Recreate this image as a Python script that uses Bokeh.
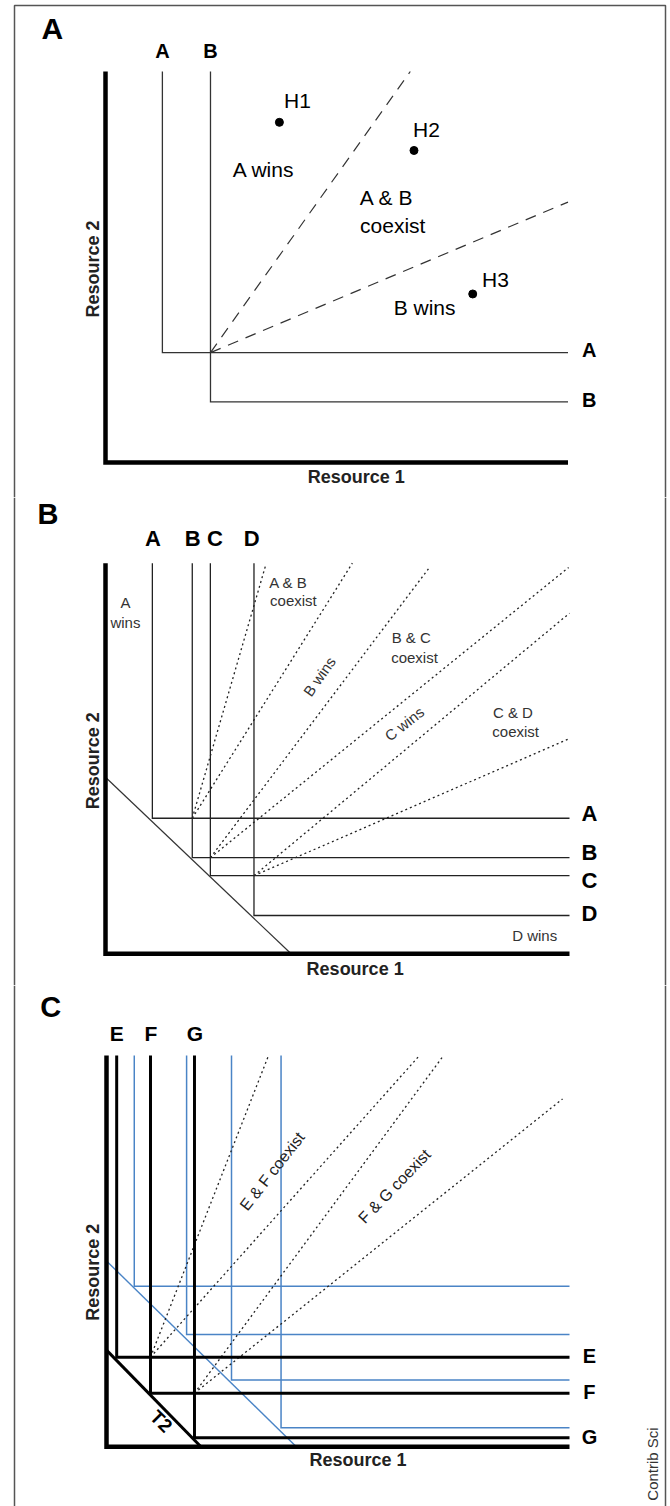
import math
from bokeh.plotting import figure
from bokeh.layouts import column
from bokeh.models import Range1d
from bokeh.core.properties import value
from bokeh.embed import file_html
from bokeh.resources import INLINE

FONT = "Liberation Sans"

# ---------------- Panel A data (resource units, axes 0..100) ----------------
a_species = ["A", "B"]
a_r1 = [12.3, 22.7]            # R1* of each species (vertical ZNGI)
a_r2 = [28.1, 15.5]            # R2* of each species (horizontal ZNGI)
a_top_lab_x = [12.3, 22.7]
a_right_lab_y = [28.7, 15.9]
a_vec_end_x = [65.9, 100.0]    # consumption vectors from A-B equilibrium
a_vec_end_y = [100.0, 66.6]
a_hab = ["H1", "H2", "H3"]
a_hab_x = [37.6, 66.7, 79.4]
a_hab_y = [87.0, 79.8, 43.1]
a_hab_lab_x = [41.5, 69.4, 84.3]
a_hab_lab_y = [92.6, 85.2, 46.8]
a_reg = ["A wins", "A & B", "coexist", "B wins"]
a_reg_x = [34.2, 60.8, 62.1, 69.0]
a_reg_y = [74.9, 67.8, 60.6, 39.6]

# ---------------- Panel B data ----------------
b_species = ["A", "B", "C", "D"]
b_r1 = [10.1, 18.7, 22.6, 32.0]
b_r2 = [34.7, 24.6, 20.0, 9.8]
b_supply_x = [0.0, 40.0]
b_supply_y = [45.2, 0.0]
b_top_lab_x = [10.2, 18.8, 23.6, 31.5]
b_right_lab_y = [35.8, 26.0, 18.8, 10.4]
b_vec_pair = [0, 0, 1, 1, 2, 2]   # vector starts at equilibrium of species i and i+1
b_vec_end_x = [34.5, 53.2, 70.0, 99.8, 100.0, 100.0]
b_vec_end_y = [99.4, 100.0, 99.2, 98.9, 87.2, 55.1]
b_lab = ["A", "wins", "A & B", "coexist", "B wins", "B & C", "coexist",
         "C wins", "C & D", "coexist", "D wins"]
b_lab_x = [4.3, 4.3, 39.4, 40.5, 46.1, 65.9, 66.6, 64.4, 87.8, 88.4, 92.5]
b_lab_y = [90.0, 84.9, 95.1, 90.5, 71.0, 81.1, 75.9, 58.9, 61.8, 57.0, 4.7]
b_lab_angle = [0, 0, 0, 0, 55, 0, 0, 38, 0, 0, 0]

# ---------------- Panel C data ----------------
c_species = ["E", "F", "G"]
c_r1 = [2.2, 9.5, 19.0]
c_r2 = [22.9, 13.7, 2.3]
c_supply_x = [0.0, 20.4]       # T2 supply line
c_supply_y = [24.7, 0.0]
c_blue_r1 = [6.0, 17.3, 27.0, 37.7]
c_blue_r2 = [41.0, 28.7, 17.1, 4.9]
c_blue_supply_x = [0.0, 41.0]
c_blue_supply_y = [47.5, 0.0]
c_top_lab_x = [2.2, 9.6, 19.1]
c_right_lab_y = [23.1, 14.1, 2.6]
c_vec_pair = [0, 0, 1, 1]
c_vec_end_x = [35.0, 67.6, 72.8, 98.5]
c_vec_end_y = [100.0, 100.0, 100.0, 88.9]
c_lab = ["E & F coexist", "F & G coexist"]
c_lab_x = [35.8, 62.2]
c_lab_y = [70.4, 66.6]
c_lab_angle = [52, 46]

# ---------------- layout (page pixels) ----------------
PAGE_L, PAGE_R = 0, 670
FRAME_L, FRAME_R = 14, 665


def make_fig(top, height, ox, oy, sx, sy, frame_top=None):
    x0 = (PAGE_L - ox) / sx
    x1 = (PAGE_R - ox) / sx
    yt = (oy - top) / sy
    yb = (oy - top - height) / sy
    p = figure(width=PAGE_R - PAGE_L, height=height,
               x_range=Range1d(x0, x1), y_range=Range1d(yb, yt),
               output_backend="svg", toolbar_location=None,
               x_axis_location=None, y_axis_location=None, min_border=0)
    p.grid.visible = False
    p.outline_line_color = None
    p.background_fill_color = "white"
    p.border_fill_color = "white"
    fl = (FRAME_L - ox) / sx
    fr = (FRAME_R - ox) / sx
    if frame_top is not None:
        ft = (oy - frame_top) / sy
        p.line([fl, fl, fr, fr], [yb, ft, ft, yb], line_color="#555555", line_width=1.5)
    else:
        p.line([fl, fl], [yb, yt], line_color="#555555", line_width=1.5)
        p.line([fr, fr], [yb, yt], line_color="#555555", line_width=1.5)
    return p


def txt(p, x, y, t, size, bold=False, color="black", angle=0.0, align="center"):
    p.text(x=x, y=y, text=t, text_font=value(FONT), text_font_size=size,
           text_font_style="bold" if bold else "normal", text_color=color,
           text_align=align, text_baseline="middle", angle=angle)


def axes(p, width, color="black"):
    p.line([0, 0, 100], [100, 0, 0], line_color=color, line_width=width,
           line_join="miter")


def zngi_xy(r1, r2):
    return [[x, x, 100] for x in r1], [[100, y, y] for y in r2]


# ================= Panel A =================
pa = make_fig(0, 497, 105, 462, 4.625, 3.91, frame_top=5)
xs, ys = zngi_xy(a_r1, a_r2)
pa.multi_line(xs=xs, ys=ys, line_color="#333333", line_width=1.3, line_join="miter")
ex0, ey0 = a_r1[1], a_r2[0]
pa.multi_line(xs=[[ex0, x] for x in a_vec_end_x], ys=[[ey0, y] for y in a_vec_end_y],
              line_color="#333333", line_width=1.2, line_dash="11 8")
axes(pa, 4.5)
pa.scatter(a_hab_x, a_hab_y, size=8, color="black")
txt(pa, a_hab_lab_x, a_hab_lab_y, a_hab, "21px")
txt(pa, a_reg_x, a_reg_y, a_reg, "21px")
txt(pa, a_top_lab_x, [105.2] * len(a_species), a_species, "20px", bold=True)
txt(pa, [104.6] * len(a_species), a_right_lab_y, a_species, "20px", bold=True)
txt(pa, [54.2], [-3.8], ["Resource 1"], "18px", bold=True, color="#222222")
txt(pa, [-2.8], [49.5], ["Resource 2"], "18px", bold=True, color="#222222", angle=math.pi / 2)
txt(pa, [-11.5], [111.1], ["A"], "30px", bold=True)

# ================= Panel B =================
pb = make_fig(497, 488, 105, 953.3, 4.64, 3.906)
pb.line(b_supply_x, b_supply_y, line_color="#333333", line_width=1.2)
xs, ys = zngi_xy(b_r1, b_r2)
pb.multi_line(xs=xs, ys=ys, line_color="#222222", line_width=1.3, line_join="miter")
vx = [[b_r1[i + 1], x] for i, x in zip(b_vec_pair, b_vec_end_x)]
vy = [[b_r2[i], y] for i, y in zip(b_vec_pair, b_vec_end_y)]
pb.multi_line(xs=vx, ys=vy, line_color="#222222", line_width=1.3, line_dash="2 3")
axes(pb, 4.5)
txt(pb, b_lab_x, b_lab_y, b_lab, "15px", color="#333333",
    angle=[math.radians(a) for a in b_lab_angle])
txt(pb, b_top_lab_x, [106.2] * len(b_species), b_species, "22px", bold=True)
txt(pb, [104.3] * len(b_species), b_right_lab_y, b_species, "22px", bold=True)
txt(pb, [53.8], [-4.0], ["Resource 1"], "18px", bold=True, color="#222222")
txt(pb, [-2.8], [49.4], ["Resource 2"], "18px", bold=True, color="#222222", angle=math.pi / 2)
txt(pb, [-12.4], [112.6], ["B"], "29px", bold=True)

# ================= Panel C =================
pc = make_fig(985, 521, 106, 1446.3, 4.63, 3.913)
BLUE = "#4a84c6"
pc.line(c_blue_supply_x, c_blue_supply_y, line_color=BLUE, line_width=1.4)
xs, ys = zngi_xy(c_blue_r1, c_blue_r2)
pc.multi_line(xs=xs, ys=ys, line_color=BLUE, line_width=1.5, line_join="miter")
vx = [[c_r1[i + 1], x] for i, x in zip(c_vec_pair, c_vec_end_x)]
vy = [[c_r2[i], y] for i, y in zip(c_vec_pair, c_vec_end_y)]
pc.multi_line(xs=vx, ys=vy, line_color="#222222", line_width=1.3, line_dash="2 3")
xs, ys = zngi_xy(c_r1, c_r2)
pc.multi_line(xs=xs, ys=ys, line_color="black", line_width=3, line_join="miter")
pc.line(c_supply_x, c_supply_y, line_color="black", line_width=3)
axes(pc, 4.5)
txt(pc, c_lab_x, c_lab_y, c_lab, "16px", color="#222222",
    angle=[math.radians(a) for a in c_lab_angle])
txt(pc, [11.8], [6.5], ["T2"], "19px", bold=True, angle=-math.pi / 4)
txt(pc, c_top_lab_x, [105.5] * len(c_species), c_species, "21px", bold=True)
txt(pc, [104.3] * len(c_species), c_right_lab_y, c_species, "20px", bold=True)
txt(pc, [54.3], [-3.5], ["Resource 1"], "18px", bold=True, color="#222222")
txt(pc, [-3.0], [44.6], ["Resource 2"], "18px", bold=True, color="#222222", angle=math.pi / 2)
txt(pc, [-12.05], [112.3], ["C"], "29px", bold=True)
txt(pc, [117.9], [-4.4], ["Contrib Sci"], "15px", color="#333333", angle=math.pi / 2)

layout = column(pa, pb, pc, spacing=0)
open("out.html", "w").write(file_html(layout, INLINE))
